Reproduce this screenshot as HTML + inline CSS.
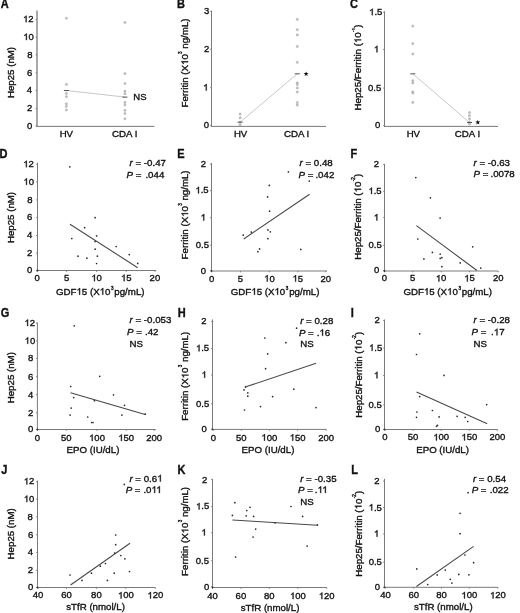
<!DOCTYPE html>
<html><head><meta charset="utf-8"><style>
html,body{margin:0;padding:0;background:#fff;}
svg{display:block;filter:blur(0.3px);}
text{font-family:"Liberation Sans",sans-serif;fill:#111;stroke:#111;stroke-width:0.35px;}
.o{fill:transparent;stroke:none;}
.g1{fill:#111;stroke:#111;stroke-width:0.35px;}
</style></head><body>
<svg width="520" height="613" viewBox="0 0 520 613">
<rect width="520" height="613" fill="#fff"/>
<text transform="translate(0.63,8.40) scale(0.92,1)" x="0" y="0" font-size="12" font-weight="bold">A</text>
<line x1="66.40" y1="90.50" x2="124.90" y2="97.10" stroke="#c8c8c8" stroke-width="1"/>
<circle cx="66.40" cy="18.25" r="1.1" fill="#c4c4c4" stroke="#a0a0a0" stroke-width="0.5"/>
<circle cx="66.40" cy="84.40" r="1.1" fill="#c4c4c4" stroke="#a0a0a0" stroke-width="0.5"/>
<circle cx="66.40" cy="93.40" r="1.1" fill="#c4c4c4" stroke="#a0a0a0" stroke-width="0.5"/>
<circle cx="66.40" cy="96.70" r="1.1" fill="#c4c4c4" stroke="#a0a0a0" stroke-width="0.5"/>
<circle cx="66.40" cy="103.80" r="1.1" fill="#c4c4c4" stroke="#a0a0a0" stroke-width="0.5"/>
<circle cx="66.40" cy="106.40" r="1.1" fill="#c4c4c4" stroke="#a0a0a0" stroke-width="0.5"/>
<circle cx="66.40" cy="110.00" r="1.1" fill="#c4c4c4" stroke="#a0a0a0" stroke-width="0.5"/>
<circle cx="124.90" cy="22.50" r="1.1" fill="#c4c4c4" stroke="#a0a0a0" stroke-width="0.5"/>
<circle cx="124.90" cy="73.60" r="1.1" fill="#c4c4c4" stroke="#a0a0a0" stroke-width="0.5"/>
<circle cx="124.90" cy="83.50" r="1.1" fill="#c4c4c4" stroke="#a0a0a0" stroke-width="0.5"/>
<circle cx="124.90" cy="91.25" r="1.1" fill="#c4c4c4" stroke="#a0a0a0" stroke-width="0.5"/>
<circle cx="124.90" cy="93.70" r="1.1" fill="#c4c4c4" stroke="#a0a0a0" stroke-width="0.5"/>
<circle cx="124.90" cy="102.40" r="1.1" fill="#c4c4c4" stroke="#a0a0a0" stroke-width="0.5"/>
<circle cx="124.90" cy="105.00" r="1.1" fill="#c4c4c4" stroke="#a0a0a0" stroke-width="0.5"/>
<circle cx="124.90" cy="110.30" r="1.1" fill="#c4c4c4" stroke="#a0a0a0" stroke-width="0.5"/>
<circle cx="124.90" cy="113.50" r="1.1" fill="#c4c4c4" stroke="#a0a0a0" stroke-width="0.5"/>
<circle cx="124.90" cy="118.80" r="1.1" fill="#c4c4c4" stroke="#a0a0a0" stroke-width="0.5"/>
<line x1="63.90" y1="90.50" x2="68.90" y2="90.50" stroke="#555" stroke-width="1"/>
<line x1="122.40" y1="97.10" x2="127.40" y2="97.10" stroke="#555" stroke-width="1"/>
<line x1="37.00" y1="10.50" x2="37.00" y2="126.90" stroke="#555" stroke-width="1"/>
<line x1="36.50" y1="126.40" x2="154.40" y2="126.40" stroke="#7a7a7a" stroke-width="1"/>
<line x1="35.70" y1="19.35" x2="37.00" y2="19.35" stroke="#7a7a7a" stroke-width="1"/>
<text x="28.30" y="22.20" text-anchor="middle" font-size="9.5" ><tspan class="o">1</tspan>2</text>
<line x1="35.70" y1="37.20" x2="37.00" y2="37.20" stroke="#7a7a7a" stroke-width="1"/>
<text x="28.55" y="40.05" text-anchor="middle" font-size="9.5" ><tspan class="o">1</tspan>0</text>
<line x1="35.70" y1="54.90" x2="37.00" y2="54.90" stroke="#7a7a7a" stroke-width="1"/>
<text x="29.85" y="57.75" text-anchor="middle" font-size="9.5" >8</text>
<line x1="35.70" y1="72.80" x2="37.00" y2="72.80" stroke="#7a7a7a" stroke-width="1"/>
<text x="29.70" y="75.65" text-anchor="middle" font-size="9.5" >6</text>
<line x1="35.70" y1="90.60" x2="37.00" y2="90.60" stroke="#7a7a7a" stroke-width="1"/>
<text x="29.50" y="93.45" text-anchor="middle" font-size="9.5" >4</text>
<line x1="35.70" y1="108.50" x2="37.00" y2="108.50" stroke="#7a7a7a" stroke-width="1"/>
<text x="29.60" y="111.35" text-anchor="middle" font-size="9.5" >2</text>
<line x1="35.70" y1="125.90" x2="37.00" y2="125.90" stroke="#7a7a7a" stroke-width="1"/>
<text x="29.70" y="128.75" text-anchor="middle" font-size="9.5" >0</text>
<text x="66.30" y="136.60" text-anchor="middle" font-size="9.6" >HV</text>
<text x="124.70" y="136.60" text-anchor="middle" font-size="9.7" >CDA I</text>
<text transform="translate(13.70,72.50) rotate(-90)" text-anchor="middle" font-size="9.7">Hep25 (nM)</text>
<text x="133.30" y="100.30" text-anchor="start" font-size="9.5" >NS</text>
<text transform="translate(176.96,8.40) scale(0.92,1)" x="0" y="0" font-size="12" font-weight="bold">B</text>
<line x1="240.10" y1="122.20" x2="297.30" y2="73.80" stroke="#c8c8c8" stroke-width="1"/>
<circle cx="240.10" cy="114.10" r="1.1" fill="#c4c4c4" stroke="#a0a0a0" stroke-width="0.5"/>
<circle cx="240.10" cy="117.80" r="1.1" fill="#c4c4c4" stroke="#a0a0a0" stroke-width="0.5"/>
<circle cx="240.10" cy="122.20" r="1.1" fill="#c4c4c4" stroke="#a0a0a0" stroke-width="0.5"/>
<circle cx="240.10" cy="124.80" r="1.1" fill="#c4c4c4" stroke="#a0a0a0" stroke-width="0.5"/>
<circle cx="297.30" cy="19.40" r="1.1" fill="#c4c4c4" stroke="#a0a0a0" stroke-width="0.5"/>
<circle cx="297.30" cy="29.70" r="1.1" fill="#c4c4c4" stroke="#a0a0a0" stroke-width="0.5"/>
<circle cx="297.30" cy="34.90" r="1.1" fill="#c4c4c4" stroke="#a0a0a0" stroke-width="0.5"/>
<circle cx="297.30" cy="46.50" r="1.1" fill="#c4c4c4" stroke="#a0a0a0" stroke-width="0.5"/>
<circle cx="297.30" cy="62.30" r="1.1" fill="#c4c4c4" stroke="#a0a0a0" stroke-width="0.5"/>
<circle cx="297.30" cy="82.90" r="1.1" fill="#c4c4c4" stroke="#a0a0a0" stroke-width="0.5"/>
<circle cx="297.30" cy="84.60" r="1.1" fill="#c4c4c4" stroke="#a0a0a0" stroke-width="0.5"/>
<circle cx="297.30" cy="88.00" r="1.1" fill="#c4c4c4" stroke="#a0a0a0" stroke-width="0.5"/>
<circle cx="297.30" cy="92.00" r="1.1" fill="#c4c4c4" stroke="#a0a0a0" stroke-width="0.5"/>
<circle cx="297.30" cy="102.60" r="1.1" fill="#c4c4c4" stroke="#a0a0a0" stroke-width="0.5"/>
<circle cx="297.30" cy="105.10" r="1.1" fill="#c4c4c4" stroke="#a0a0a0" stroke-width="0.5"/>
<line x1="237.60" y1="122.20" x2="242.60" y2="122.20" stroke="#555" stroke-width="1"/>
<line x1="294.80" y1="73.80" x2="299.80" y2="73.80" stroke="#555" stroke-width="1"/>
<line x1="211.50" y1="10.70" x2="211.50" y2="126.90" stroke="#7a7a7a" stroke-width="1"/>
<line x1="211.00" y1="126.40" x2="326.00" y2="126.40" stroke="#7a7a7a" stroke-width="1"/>
<line x1="210.20" y1="11.25" x2="211.50" y2="11.25" stroke="#7a7a7a" stroke-width="1"/>
<text x="206.65" y="14.10" text-anchor="middle" font-size="9.5" >3</text>
<line x1="210.20" y1="49.15" x2="211.50" y2="49.15" stroke="#7a7a7a" stroke-width="1"/>
<text x="206.65" y="52.00" text-anchor="middle" font-size="9.5" >2</text>
<line x1="210.20" y1="87.70" x2="211.50" y2="87.70" stroke="#7a7a7a" stroke-width="1"/>
<text x="205.75" y="90.55" text-anchor="middle" font-size="9.5" ><tspan class="o">1</tspan></text>
<line x1="210.20" y1="125.45" x2="211.50" y2="125.45" stroke="#7a7a7a" stroke-width="1"/>
<text x="206.45" y="128.30" text-anchor="middle" font-size="9.5" >0</text>
<text x="240.60" y="136.60" text-anchor="middle" font-size="9.6" >HV</text>
<text x="296.60" y="136.60" text-anchor="middle" font-size="9.7" >CDA I</text>
<text transform="translate(188.10,63.00) rotate(-90)" text-anchor="middle" font-size="9.7">Ferritin (X<tspan class="o">1</tspan>0<tspan font-size="4.6" dx="0.3" dy="-6">3</tspan><tspan dy="6"> ng/mL)</tspan></text>
<polygon points="306.10,71.40 306.74,73.12 308.57,73.20 307.14,74.34 307.63,76.10 306.10,75.09 304.57,76.10 305.06,74.34 303.63,73.20 305.46,73.12" fill="#111"/>
<text transform="translate(350.05,8.40) scale(0.92,1)" x="0" y="0" font-size="12" font-weight="bold">C</text>
<line x1="412.80" y1="73.80" x2="469.50" y2="122.50" stroke="#c8c8c8" stroke-width="1"/>
<circle cx="412.80" cy="26.10" r="1.1" fill="#c4c4c4" stroke="#a0a0a0" stroke-width="0.5"/>
<circle cx="412.80" cy="43.60" r="1.1" fill="#c4c4c4" stroke="#a0a0a0" stroke-width="0.5"/>
<circle cx="412.80" cy="54.00" r="1.1" fill="#c4c4c4" stroke="#a0a0a0" stroke-width="0.5"/>
<circle cx="412.80" cy="80.70" r="1.1" fill="#c4c4c4" stroke="#a0a0a0" stroke-width="0.5"/>
<circle cx="412.80" cy="83.00" r="1.1" fill="#c4c4c4" stroke="#a0a0a0" stroke-width="0.5"/>
<circle cx="412.80" cy="91.90" r="1.1" fill="#c4c4c4" stroke="#a0a0a0" stroke-width="0.5"/>
<circle cx="412.80" cy="93.10" r="1.1" fill="#c4c4c4" stroke="#a0a0a0" stroke-width="0.5"/>
<circle cx="412.80" cy="102.40" r="1.1" fill="#c4c4c4" stroke="#a0a0a0" stroke-width="0.5"/>
<circle cx="469.50" cy="112.60" r="1.1" fill="#c4c4c4" stroke="#a0a0a0" stroke-width="0.5"/>
<circle cx="469.50" cy="115.60" r="1.1" fill="#c4c4c4" stroke="#a0a0a0" stroke-width="0.5"/>
<circle cx="469.50" cy="118.80" r="1.1" fill="#c4c4c4" stroke="#a0a0a0" stroke-width="0.5"/>
<circle cx="469.50" cy="122.20" r="1.1" fill="#c4c4c4" stroke="#a0a0a0" stroke-width="0.5"/>
<circle cx="469.50" cy="123.90" r="1.1" fill="#c4c4c4" stroke="#a0a0a0" stroke-width="0.5"/>
<line x1="410.30" y1="73.80" x2="415.30" y2="73.80" stroke="#555" stroke-width="1"/>
<line x1="467.00" y1="122.50" x2="472.00" y2="122.50" stroke="#555" stroke-width="1"/>
<line x1="384.50" y1="11.30" x2="384.50" y2="126.90" stroke="#7a7a7a" stroke-width="1"/>
<line x1="384.00" y1="126.40" x2="498.10" y2="126.40" stroke="#7a7a7a" stroke-width="1"/>
<line x1="383.20" y1="12.35" x2="384.50" y2="12.35" stroke="#7a7a7a" stroke-width="1"/>
<text x="375.75" y="15.20" text-anchor="middle" font-size="9.5" ><tspan class="o">1</tspan>.5</text>
<line x1="383.20" y1="49.50" x2="384.50" y2="49.50" stroke="#7a7a7a" stroke-width="1"/>
<text x="376.50" y="52.35" text-anchor="middle" font-size="9.5" ><tspan class="o">1</tspan></text>
<line x1="383.20" y1="88.10" x2="384.50" y2="88.10" stroke="#7a7a7a" stroke-width="1"/>
<text x="374.70" y="90.95" text-anchor="middle" font-size="9.5" >0.5</text>
<line x1="383.20" y1="125.60" x2="384.50" y2="125.60" stroke="#7a7a7a" stroke-width="1"/>
<text x="377.60" y="128.45" text-anchor="middle" font-size="9.5" >0</text>
<text x="413.30" y="136.60" text-anchor="middle" font-size="9.6" >HV</text>
<text x="467.50" y="136.60" text-anchor="middle" font-size="9.7" >CDA I</text>
<text transform="translate(361.10,67.40) rotate(-90)" text-anchor="middle" font-size="9.7">Hep25/Ferritin (<tspan class="o">1</tspan>0<tspan font-size="4.6" dx="0.3" dy="-6">-<tspan class="o">1</tspan></tspan><tspan dx="0.3" dy="6">)</tspan></text>
<polygon points="477.80,119.70 478.44,121.42 480.27,121.50 478.84,122.64 479.33,124.40 477.80,123.39 476.27,124.40 476.76,122.64 475.33,121.50 477.16,121.42" fill="#111"/>
<text transform="translate(-0.44,158.40) scale(0.92,1)" x="0" y="0" font-size="12" font-weight="bold">D</text>
<line x1="37.50" y1="162.60" x2="37.50" y2="271.00" stroke="#7a7a7a" stroke-width="1"/>
<line x1="37.00" y1="270.50" x2="156.20" y2="270.50" stroke="#7a7a7a" stroke-width="1"/>
<line x1="36.20" y1="164.35" x2="37.50" y2="164.35" stroke="#7a7a7a" stroke-width="1"/>
<text x="28.50" y="167.20" text-anchor="middle" font-size="9.5" ><tspan class="o">1</tspan>2</text>
<line x1="36.20" y1="182.00" x2="37.50" y2="182.00" stroke="#7a7a7a" stroke-width="1"/>
<text x="28.65" y="184.85" text-anchor="middle" font-size="9.5" ><tspan class="o">1</tspan>0</text>
<line x1="36.20" y1="199.90" x2="37.50" y2="199.90" stroke="#7a7a7a" stroke-width="1"/>
<text x="29.80" y="202.75" text-anchor="middle" font-size="9.5" >8</text>
<line x1="36.20" y1="217.60" x2="37.50" y2="217.60" stroke="#7a7a7a" stroke-width="1"/>
<text x="29.70" y="220.45" text-anchor="middle" font-size="9.5" >6</text>
<line x1="36.20" y1="235.50" x2="37.50" y2="235.50" stroke="#7a7a7a" stroke-width="1"/>
<text x="29.60" y="238.35" text-anchor="middle" font-size="9.5" >4</text>
<line x1="36.20" y1="253.20" x2="37.50" y2="253.20" stroke="#7a7a7a" stroke-width="1"/>
<text x="29.60" y="256.05" text-anchor="middle" font-size="9.5" >2</text>
<line x1="36.20" y1="270.40" x2="37.50" y2="270.40" stroke="#7a7a7a" stroke-width="1"/>
<text x="29.60" y="273.25" text-anchor="middle" font-size="9.5" >0</text>
<line x1="37.10" y1="270.50" x2="37.10" y2="271.80" stroke="#7a7a7a" stroke-width="1"/>
<text x="37.10" y="281.15" text-anchor="middle" font-size="9.5" >0</text>
<line x1="66.65" y1="270.50" x2="66.65" y2="271.80" stroke="#7a7a7a" stroke-width="1"/>
<text x="66.65" y="281.15" text-anchor="middle" font-size="9.5" >5</text>
<line x1="96.60" y1="270.50" x2="96.60" y2="271.80" stroke="#7a7a7a" stroke-width="1"/>
<text x="96.60" y="281.15" text-anchor="middle" font-size="9.5" ><tspan class="o">1</tspan>0</text>
<line x1="126.30" y1="270.50" x2="126.30" y2="271.80" stroke="#7a7a7a" stroke-width="1"/>
<text x="126.30" y="281.15" text-anchor="middle" font-size="9.5" ><tspan class="o">1</tspan>5</text>
<line x1="154.90" y1="270.50" x2="154.90" y2="271.80" stroke="#7a7a7a" stroke-width="1"/>
<text x="154.90" y="281.15" text-anchor="middle" font-size="9.5" >20</text>
<circle cx="37.50" cy="270.50" r="0.9" fill="#333"/>
<text x="100.25" y="294.70" text-anchor="middle" font-size="9.7" >GDF<tspan class="o">1</tspan>5 (X<tspan class="o">1</tspan>0<tspan font-size="4.6" dx="0.6" dy="-5">3</tspan><tspan dx="0.8" dy="5">pg/mL)</tspan></text>
<text transform="translate(13.70,217.50) rotate(-90)" text-anchor="middle" font-size="9.7">Hep25 (nM)</text>
<text x="129.60" y="165.70" text-anchor="start" font-size="9.7" ><tspan font-style="italic">r</tspan> = -0.47</text>
<text x="126.50" y="177.60" text-anchor="start" font-size="9.7" ><tspan font-style="italic">P</tspan> =<tspan dx="1.40"> .044</tspan></text>
<line x1="70.00" y1="224.20" x2="137.70" y2="267.70" stroke="#474747" stroke-width="1.05"/>
<circle cx="69.80" cy="166.80" r="0.85" fill="#2a2a2a"/>
<circle cx="95.10" cy="217.70" r="0.85" fill="#2a2a2a"/>
<circle cx="84.60" cy="227.70" r="0.85" fill="#2a2a2a"/>
<circle cx="96.60" cy="235.80" r="0.85" fill="#2a2a2a"/>
<circle cx="71.80" cy="238.50" r="0.85" fill="#2a2a2a"/>
<circle cx="95.10" cy="241.50" r="0.85" fill="#2a2a2a"/>
<circle cx="116.20" cy="246.50" r="0.85" fill="#2a2a2a"/>
<circle cx="95.10" cy="249.20" r="0.85" fill="#2a2a2a"/>
<circle cx="129.20" cy="254.60" r="0.85" fill="#2a2a2a"/>
<circle cx="78.00" cy="256.20" r="0.85" fill="#2a2a2a"/>
<circle cx="86.90" cy="258.20" r="0.85" fill="#2a2a2a"/>
<circle cx="97.40" cy="256.20" r="0.85" fill="#2a2a2a"/>
<circle cx="96.60" cy="263.50" r="0.85" fill="#2a2a2a"/>
<circle cx="137.70" cy="263.40" r="0.85" fill="#2a2a2a"/>
<text transform="translate(177.36,158.40) scale(0.92,1)" x="0" y="0" font-size="12" font-weight="bold">E</text>
<line x1="211.50" y1="163.00" x2="211.50" y2="271.50" stroke="#7a7a7a" stroke-width="1"/>
<line x1="211.00" y1="271.00" x2="327.00" y2="271.00" stroke="#7a7a7a" stroke-width="1"/>
<line x1="210.20" y1="164.10" x2="211.50" y2="164.10" stroke="#7a7a7a" stroke-width="1"/>
<text x="203.40" y="166.95" text-anchor="middle" font-size="9.5" >2</text>
<line x1="210.20" y1="190.55" x2="211.50" y2="190.55" stroke="#7a7a7a" stroke-width="1"/>
<text x="202.00" y="193.40" text-anchor="middle" font-size="9.5" ><tspan class="o">1</tspan>.5</text>
<line x1="210.20" y1="217.70" x2="211.50" y2="217.70" stroke="#7a7a7a" stroke-width="1"/>
<text x="203.30" y="220.55" text-anchor="middle" font-size="9.5" ><tspan class="o">1</tspan></text>
<line x1="210.20" y1="245.25" x2="211.50" y2="245.25" stroke="#7a7a7a" stroke-width="1"/>
<text x="202.35" y="248.10" text-anchor="middle" font-size="9.5" >0.5</text>
<line x1="210.20" y1="270.75" x2="211.50" y2="270.75" stroke="#7a7a7a" stroke-width="1"/>
<text x="203.50" y="273.60" text-anchor="middle" font-size="9.5" >0</text>
<line x1="211.70" y1="271.00" x2="211.70" y2="272.30" stroke="#7a7a7a" stroke-width="1"/>
<text x="211.70" y="281.60" text-anchor="middle" font-size="9.5" >0</text>
<line x1="240.40" y1="271.00" x2="240.40" y2="272.30" stroke="#7a7a7a" stroke-width="1"/>
<text x="240.40" y="281.60" text-anchor="middle" font-size="9.5" >5</text>
<line x1="269.40" y1="271.00" x2="269.40" y2="272.30" stroke="#7a7a7a" stroke-width="1"/>
<text x="269.40" y="281.60" text-anchor="middle" font-size="9.5" ><tspan class="o">1</tspan>0</text>
<line x1="297.80" y1="271.00" x2="297.80" y2="272.30" stroke="#7a7a7a" stroke-width="1"/>
<text x="297.80" y="281.60" text-anchor="middle" font-size="9.5" ><tspan class="o">1</tspan>5</text>
<line x1="325.80" y1="271.00" x2="325.80" y2="272.30" stroke="#7a7a7a" stroke-width="1"/>
<text x="325.80" y="281.60" text-anchor="middle" font-size="9.5" >20</text>
<circle cx="211.50" cy="271.00" r="0.9" fill="#333"/>
<text x="275.10" y="294.70" text-anchor="middle" font-size="9.7" >GDF<tspan class="o">1</tspan>5 (X<tspan class="o">1</tspan>0<tspan font-size="4.6" dx="0.6" dy="-5">3</tspan><tspan dx="0.8" dy="5">pg/mL)</tspan></text>
<text transform="translate(188.10,214.90) rotate(-90)" text-anchor="middle" font-size="9.7">Ferritin (X<tspan class="o">1</tspan>0<tspan font-size="4.6" dx="0.3" dy="-6">3</tspan><tspan dy="6"> ng/mL)</tspan></text>
<text x="299.60" y="165.70" text-anchor="start" font-size="9.7" ><tspan font-style="italic">r</tspan> = 0.48</text>
<text x="298.60" y="177.60" text-anchor="start" font-size="9.7" ><tspan font-style="italic">P</tspan> =<tspan dx="-0.70"> .042</tspan></text>
<line x1="243.70" y1="239.00" x2="309.60" y2="194.30" stroke="#474747" stroke-width="1.05"/>
<circle cx="288.40" cy="171.80" r="0.85" fill="#2a2a2a"/>
<circle cx="309.30" cy="181.10" r="0.85" fill="#2a2a2a"/>
<circle cx="269.30" cy="185.40" r="0.85" fill="#2a2a2a"/>
<circle cx="267.60" cy="196.90" r="0.85" fill="#2a2a2a"/>
<circle cx="269.60" cy="211.20" r="0.85" fill="#2a2a2a"/>
<circle cx="243.20" cy="235.20" r="0.85" fill="#2a2a2a"/>
<circle cx="251.30" cy="232.10" r="0.85" fill="#2a2a2a"/>
<circle cx="267.90" cy="229.90" r="0.85" fill="#2a2a2a"/>
<circle cx="270.30" cy="231.80" r="0.85" fill="#2a2a2a"/>
<circle cx="267.90" cy="238.70" r="0.85" fill="#2a2a2a"/>
<circle cx="259.60" cy="248.90" r="0.85" fill="#2a2a2a"/>
<circle cx="257.90" cy="251.70" r="0.85" fill="#2a2a2a"/>
<circle cx="300.80" cy="249.40" r="0.85" fill="#2a2a2a"/>
<text transform="translate(350.56,158.40) scale(0.92,1)" x="0" y="0" font-size="12" font-weight="bold">F</text>
<line x1="384.50" y1="163.80" x2="384.50" y2="271.50" stroke="#7a7a7a" stroke-width="1"/>
<line x1="384.00" y1="271.00" x2="498.20" y2="271.00" stroke="#7a7a7a" stroke-width="1"/>
<line x1="383.20" y1="164.60" x2="384.50" y2="164.60" stroke="#7a7a7a" stroke-width="1"/>
<text x="376.50" y="167.45" text-anchor="middle" font-size="9.5" >2</text>
<line x1="383.20" y1="191.25" x2="384.50" y2="191.25" stroke="#7a7a7a" stroke-width="1"/>
<text x="375.00" y="194.10" text-anchor="middle" font-size="9.5" ><tspan class="o">1</tspan>.5</text>
<line x1="383.20" y1="217.70" x2="384.50" y2="217.70" stroke="#7a7a7a" stroke-width="1"/>
<text x="376.40" y="220.55" text-anchor="middle" font-size="9.5" ><tspan class="o">1</tspan></text>
<line x1="383.20" y1="245.25" x2="384.50" y2="245.25" stroke="#7a7a7a" stroke-width="1"/>
<text x="375.10" y="248.10" text-anchor="middle" font-size="9.5" >0.5</text>
<line x1="383.20" y1="270.45" x2="384.50" y2="270.45" stroke="#7a7a7a" stroke-width="1"/>
<text x="376.65" y="273.30" text-anchor="middle" font-size="9.5" >0</text>
<line x1="384.40" y1="271.00" x2="384.40" y2="272.30" stroke="#7a7a7a" stroke-width="1"/>
<text x="384.40" y="281.45" text-anchor="middle" font-size="9.5" >0</text>
<line x1="412.75" y1="271.00" x2="412.75" y2="272.30" stroke="#7a7a7a" stroke-width="1"/>
<text x="412.75" y="281.45" text-anchor="middle" font-size="9.5" >5</text>
<line x1="441.10" y1="271.00" x2="441.10" y2="272.30" stroke="#7a7a7a" stroke-width="1"/>
<text x="441.10" y="281.45" text-anchor="middle" font-size="9.5" ><tspan class="o">1</tspan>0</text>
<line x1="469.50" y1="271.00" x2="469.50" y2="272.30" stroke="#7a7a7a" stroke-width="1"/>
<text x="469.50" y="281.45" text-anchor="middle" font-size="9.5" ><tspan class="o">1</tspan>5</text>
<line x1="498.20" y1="271.00" x2="498.20" y2="272.30" stroke="#7a7a7a" stroke-width="1"/>
<text x="498.20" y="281.45" text-anchor="middle" font-size="9.5" >20</text>
<circle cx="384.50" cy="271.00" r="0.9" fill="#333"/>
<text x="447.70" y="294.70" text-anchor="middle" font-size="9.7" >GDF<tspan class="o">1</tspan>5 (X<tspan class="o">1</tspan>0<tspan font-size="4.6" dx="0.6" dy="-5">3</tspan><tspan dx="0.8" dy="5">pg/mL)</tspan></text>
<text transform="translate(361.10,216.70) rotate(-90)" text-anchor="middle" font-size="9.7">Hep25/Ferritin (<tspan class="o">1</tspan>0<tspan font-size="4.6" dx="0.3" dy="-6">-2</tspan><tspan dx="0.3" dy="6">)</tspan></text>
<text x="473.60" y="165.50" text-anchor="start" font-size="9.7" ><tspan font-style="italic">r</tspan> = -0.63</text>
<text x="473.60" y="177.10" text-anchor="start" font-size="9.7" ><tspan font-style="italic">P</tspan> =<tspan dx="-0.65"> .0078</tspan></text>
<line x1="416.40" y1="225.70" x2="477.00" y2="270.50" stroke="#474747" stroke-width="1.05"/>
<circle cx="415.80" cy="177.60" r="0.85" fill="#2a2a2a"/>
<circle cx="430.40" cy="197.80" r="0.85" fill="#2a2a2a"/>
<circle cx="440.10" cy="218.10" r="0.85" fill="#2a2a2a"/>
<circle cx="417.80" cy="239.00" r="0.85" fill="#2a2a2a"/>
<circle cx="472.70" cy="246.80" r="0.85" fill="#2a2a2a"/>
<circle cx="432.40" cy="252.40" r="0.85" fill="#2a2a2a"/>
<circle cx="440.20" cy="254.10" r="0.85" fill="#2a2a2a"/>
<circle cx="423.90" cy="258.90" r="0.85" fill="#2a2a2a"/>
<circle cx="440.20" cy="258.40" r="0.85" fill="#2a2a2a"/>
<circle cx="441.90" cy="257.70" r="0.85" fill="#2a2a2a"/>
<circle cx="460.20" cy="262.90" r="0.85" fill="#2a2a2a"/>
<circle cx="441.90" cy="266.70" r="0.85" fill="#2a2a2a"/>
<circle cx="480.80" cy="268.10" r="0.85" fill="#2a2a2a"/>
<text transform="translate(0.85,316.50) scale(0.92,1)" x="0" y="0" font-size="12" font-weight="bold">G</text>
<line x1="37.40" y1="322.50" x2="37.40" y2="430.00" stroke="#7a7a7a" stroke-width="1"/>
<line x1="36.90" y1="429.50" x2="155.80" y2="429.50" stroke="#7a7a7a" stroke-width="1"/>
<line x1="36.10" y1="323.10" x2="37.40" y2="323.10" stroke="#7a7a7a" stroke-width="1"/>
<text x="29.80" y="325.95" text-anchor="middle" font-size="9.5" ><tspan class="o">1</tspan>2</text>
<line x1="36.10" y1="341.00" x2="37.40" y2="341.00" stroke="#7a7a7a" stroke-width="1"/>
<text x="29.90" y="343.85" text-anchor="middle" font-size="9.5" ><tspan class="o">1</tspan>0</text>
<line x1="36.10" y1="358.40" x2="37.40" y2="358.40" stroke="#7a7a7a" stroke-width="1"/>
<text x="30.75" y="361.25" text-anchor="middle" font-size="9.5" >8</text>
<line x1="36.10" y1="376.80" x2="37.40" y2="376.80" stroke="#7a7a7a" stroke-width="1"/>
<text x="30.75" y="379.65" text-anchor="middle" font-size="9.5" >6</text>
<line x1="36.10" y1="394.80" x2="37.40" y2="394.80" stroke="#7a7a7a" stroke-width="1"/>
<text x="30.55" y="397.65" text-anchor="middle" font-size="9.5" >4</text>
<line x1="36.10" y1="412.80" x2="37.40" y2="412.80" stroke="#7a7a7a" stroke-width="1"/>
<text x="30.65" y="415.65" text-anchor="middle" font-size="9.5" >2</text>
<line x1="36.10" y1="429.50" x2="37.40" y2="429.50" stroke="#7a7a7a" stroke-width="1"/>
<text x="30.65" y="432.35" text-anchor="middle" font-size="9.5" >0</text>
<line x1="37.50" y1="429.50" x2="37.50" y2="430.80" stroke="#7a7a7a" stroke-width="1"/>
<text x="37.50" y="440.95" text-anchor="middle" font-size="9.5" >0</text>
<line x1="66.25" y1="429.50" x2="66.25" y2="430.80" stroke="#7a7a7a" stroke-width="1"/>
<text x="66.25" y="440.95" text-anchor="middle" font-size="9.5" >50</text>
<line x1="97.00" y1="429.50" x2="97.00" y2="430.80" stroke="#7a7a7a" stroke-width="1"/>
<text x="97.00" y="440.95" text-anchor="middle" font-size="9.5" ><tspan class="o">1</tspan>00</text>
<line x1="126.20" y1="429.50" x2="126.20" y2="430.80" stroke="#7a7a7a" stroke-width="1"/>
<text x="126.20" y="440.95" text-anchor="middle" font-size="9.5" ><tspan class="o">1</tspan>50</text>
<line x1="154.20" y1="429.50" x2="154.20" y2="430.80" stroke="#7a7a7a" stroke-width="1"/>
<text x="154.20" y="440.95" text-anchor="middle" font-size="9.5" >200</text>
<circle cx="37.40" cy="429.50" r="0.9" fill="#333"/>
<text x="93.00" y="452.50" text-anchor="middle" font-size="9.7" >EPO (IU/dL)</text>
<text transform="translate(13.90,377.70) rotate(-90)" text-anchor="middle" font-size="9.7">Hep25 (nM)</text>
<text x="129.60" y="322.80" text-anchor="start" font-size="9.7" ><tspan font-style="italic">r</tspan> = -0.053</text>
<text x="127.00" y="334.60" text-anchor="start" font-size="9.7" ><tspan font-style="italic">P</tspan> =<tspan dx="0.50"> .42</tspan></text>
<text x="129.60" y="346.90" text-anchor="start" font-size="9.7" >NS</text>
<line x1="70.50" y1="392.80" x2="145.20" y2="414.40" stroke="#474747" stroke-width="1.05"/>
<circle cx="74.20" cy="325.80" r="0.85" fill="#2a2a2a"/>
<circle cx="99.70" cy="376.30" r="0.85" fill="#2a2a2a"/>
<circle cx="70.70" cy="386.50" r="0.85" fill="#2a2a2a"/>
<circle cx="113.50" cy="394.80" r="0.85" fill="#2a2a2a"/>
<circle cx="73.70" cy="397.50" r="0.85" fill="#2a2a2a"/>
<circle cx="94.40" cy="400.70" r="0.85" fill="#2a2a2a"/>
<circle cx="124.50" cy="405.30" r="0.85" fill="#2a2a2a"/>
<circle cx="71.20" cy="408.10" r="0.85" fill="#2a2a2a"/>
<circle cx="70.10" cy="415.10" r="0.85" fill="#2a2a2a"/>
<circle cx="121.90" cy="415.10" r="0.85" fill="#2a2a2a"/>
<circle cx="87.70" cy="417.00" r="0.85" fill="#2a2a2a"/>
<circle cx="91.60" cy="422.50" r="0.85" fill="#2a2a2a"/>
<circle cx="93.00" cy="422.50" r="0.85" fill="#2a2a2a"/>
<circle cx="145.20" cy="414.20" r="0.85" fill="#2a2a2a"/>
<text transform="translate(177.76,316.50) scale(0.92,1)" x="0" y="0" font-size="12" font-weight="bold">H</text>
<line x1="212.50" y1="319.50" x2="212.50" y2="429.90" stroke="#7a7a7a" stroke-width="1"/>
<line x1="212.00" y1="429.40" x2="326.20" y2="429.40" stroke="#7a7a7a" stroke-width="1"/>
<line x1="211.20" y1="321.60" x2="212.50" y2="321.60" stroke="#7a7a7a" stroke-width="1"/>
<text x="203.90" y="324.45" text-anchor="middle" font-size="9.5" >2</text>
<line x1="211.20" y1="348.50" x2="212.50" y2="348.50" stroke="#7a7a7a" stroke-width="1"/>
<text x="202.55" y="351.35" text-anchor="middle" font-size="9.5" ><tspan class="o">1</tspan>.5</text>
<line x1="211.20" y1="375.00" x2="212.50" y2="375.00" stroke="#7a7a7a" stroke-width="1"/>
<text x="204.20" y="377.85" text-anchor="middle" font-size="9.5" ><tspan class="o">1</tspan></text>
<line x1="211.20" y1="403.70" x2="212.50" y2="403.70" stroke="#7a7a7a" stroke-width="1"/>
<text x="202.65" y="406.55" text-anchor="middle" font-size="9.5" >0.5</text>
<line x1="211.20" y1="429.00" x2="212.50" y2="429.00" stroke="#7a7a7a" stroke-width="1"/>
<text x="204.25" y="431.85" text-anchor="middle" font-size="9.5" >0</text>
<line x1="213.40" y1="429.40" x2="213.40" y2="430.70" stroke="#7a7a7a" stroke-width="1"/>
<text x="213.40" y="440.65" text-anchor="middle" font-size="9.5" >0</text>
<line x1="241.25" y1="429.40" x2="241.25" y2="430.70" stroke="#7a7a7a" stroke-width="1"/>
<text x="241.25" y="440.65" text-anchor="middle" font-size="9.5" >50</text>
<line x1="269.30" y1="429.40" x2="269.30" y2="430.70" stroke="#7a7a7a" stroke-width="1"/>
<text x="269.30" y="440.65" text-anchor="middle" font-size="9.5" ><tspan class="o">1</tspan>00</text>
<line x1="297.60" y1="429.40" x2="297.60" y2="430.70" stroke="#7a7a7a" stroke-width="1"/>
<text x="297.60" y="440.65" text-anchor="middle" font-size="9.5" ><tspan class="o">1</tspan>50</text>
<line x1="326.20" y1="429.40" x2="326.20" y2="430.70" stroke="#7a7a7a" stroke-width="1"/>
<text x="326.20" y="440.65" text-anchor="middle" font-size="9.5" >200</text>
<circle cx="212.50" cy="429.40" r="0.9" fill="#333"/>
<text x="268.00" y="452.50" text-anchor="middle" font-size="9.7" >EPO (IU/dL)</text>
<text transform="translate(188.40,376.30) rotate(-90)" text-anchor="middle" font-size="9.7">Ferritin (X<tspan class="o">1</tspan>0<tspan font-size="4.6" dx="0.3" dy="-6">3</tspan><tspan dy="6"> ng/mL)</tspan></text>
<text x="300.20" y="323.60" text-anchor="start" font-size="9.7" ><tspan font-style="italic">r</tspan> = 0.28</text>
<text x="298.90" y="335.80" text-anchor="start" font-size="9.7" ><tspan font-style="italic">P</tspan> =<tspan dx="0.30"> .<tspan class="o">1</tspan>6</tspan></text>
<text x="300.20" y="346.60" text-anchor="start" font-size="9.7" >NS</text>
<line x1="245.10" y1="387.10" x2="316.00" y2="363.20" stroke="#474747" stroke-width="1.05"/>
<circle cx="296.60" cy="328.20" r="0.85" fill="#2a2a2a"/>
<circle cx="264.80" cy="338.00" r="0.85" fill="#2a2a2a"/>
<circle cx="285.90" cy="342.70" r="0.85" fill="#2a2a2a"/>
<circle cx="267.70" cy="353.90" r="0.85" fill="#2a2a2a"/>
<circle cx="265.60" cy="368.70" r="0.85" fill="#2a2a2a"/>
<circle cx="245.50" cy="387.10" r="0.85" fill="#2a2a2a"/>
<circle cx="244.00" cy="389.90" r="0.85" fill="#2a2a2a"/>
<circle cx="247.80" cy="392.80" r="0.85" fill="#2a2a2a"/>
<circle cx="247.80" cy="396.20" r="0.85" fill="#2a2a2a"/>
<circle cx="293.80" cy="389.20" r="0.85" fill="#2a2a2a"/>
<circle cx="272.60" cy="396.60" r="0.85" fill="#2a2a2a"/>
<circle cx="260.50" cy="406.60" r="0.85" fill="#2a2a2a"/>
<circle cx="244.50" cy="410.00" r="0.85" fill="#2a2a2a"/>
<circle cx="316.00" cy="407.60" r="0.85" fill="#2a2a2a"/>
<text transform="translate(350.76,316.50) scale(0.92,1)" x="0" y="0" font-size="12" font-weight="bold">I</text>
<line x1="384.50" y1="319.50" x2="384.50" y2="430.00" stroke="#7a7a7a" stroke-width="1"/>
<line x1="384.00" y1="429.50" x2="497.40" y2="429.50" stroke="#7a7a7a" stroke-width="1"/>
<line x1="383.20" y1="320.60" x2="384.50" y2="320.60" stroke="#7a7a7a" stroke-width="1"/>
<text x="377.15" y="323.45" text-anchor="middle" font-size="9.5" >2</text>
<line x1="383.20" y1="348.00" x2="384.50" y2="348.00" stroke="#7a7a7a" stroke-width="1"/>
<text x="375.60" y="350.85" text-anchor="middle" font-size="9.5" ><tspan class="o">1</tspan>.5</text>
<line x1="383.20" y1="375.50" x2="384.50" y2="375.50" stroke="#7a7a7a" stroke-width="1"/>
<text x="376.50" y="378.35" text-anchor="middle" font-size="9.5" ><tspan class="o">1</tspan></text>
<line x1="383.20" y1="404.95" x2="384.50" y2="404.95" stroke="#7a7a7a" stroke-width="1"/>
<text x="375.20" y="407.80" text-anchor="middle" font-size="9.5" >0.5</text>
<line x1="383.20" y1="429.50" x2="384.50" y2="429.50" stroke="#7a7a7a" stroke-width="1"/>
<text x="377.75" y="432.35" text-anchor="middle" font-size="9.5" >0</text>
<line x1="385.00" y1="429.50" x2="385.00" y2="430.80" stroke="#7a7a7a" stroke-width="1"/>
<text x="385.00" y="440.40" text-anchor="middle" font-size="9.5" >0</text>
<line x1="413.10" y1="429.50" x2="413.10" y2="430.80" stroke="#7a7a7a" stroke-width="1"/>
<text x="413.10" y="440.40" text-anchor="middle" font-size="9.5" >50</text>
<line x1="441.20" y1="429.50" x2="441.20" y2="430.80" stroke="#7a7a7a" stroke-width="1"/>
<text x="441.20" y="440.40" text-anchor="middle" font-size="9.5" ><tspan class="o">1</tspan>00</text>
<line x1="469.30" y1="429.50" x2="469.30" y2="430.80" stroke="#7a7a7a" stroke-width="1"/>
<text x="469.30" y="440.40" text-anchor="middle" font-size="9.5" ><tspan class="o">1</tspan>50</text>
<line x1="497.40" y1="429.50" x2="497.40" y2="430.80" stroke="#7a7a7a" stroke-width="1"/>
<text x="497.40" y="440.40" text-anchor="middle" font-size="9.5" >200</text>
<circle cx="384.50" cy="429.50" r="0.9" fill="#333"/>
<text x="442.60" y="452.50" text-anchor="middle" font-size="9.7" >EPO (IU/dL)</text>
<text transform="translate(361.50,374.70) rotate(-90)" text-anchor="middle" font-size="9.7">Hep25/Ferritin (<tspan class="o">1</tspan>0<tspan font-size="4.6" dx="0.3" dy="-6">-2</tspan><tspan dx="0.3" dy="6">)</tspan></text>
<text x="473.60" y="323.10" text-anchor="start" font-size="9.7" ><tspan font-style="italic">r</tspan> = -0.28</text>
<text x="471.50" y="335.30" text-anchor="start" font-size="9.7" ><tspan font-style="italic">P</tspan> =<tspan dx="2.10"> .<tspan class="o">1</tspan>7</tspan></text>
<text x="473.60" y="346.90" text-anchor="start" font-size="9.7" >NS</text>
<line x1="416.50" y1="391.90" x2="487.20" y2="423.70" stroke="#474747" stroke-width="1.05"/>
<circle cx="419.70" cy="333.80" r="0.85" fill="#2a2a2a"/>
<circle cx="416.50" cy="354.50" r="0.85" fill="#2a2a2a"/>
<circle cx="444.00" cy="375.40" r="0.85" fill="#2a2a2a"/>
<circle cx="419.70" cy="396.60" r="0.85" fill="#2a2a2a"/>
<circle cx="486.70" cy="404.60" r="0.85" fill="#2a2a2a"/>
<circle cx="416.90" cy="412.00" r="0.85" fill="#2a2a2a"/>
<circle cx="432.40" cy="410.50" r="0.85" fill="#2a2a2a"/>
<circle cx="416.50" cy="417.30" r="0.85" fill="#2a2a2a"/>
<circle cx="439.10" cy="416.90" r="0.85" fill="#2a2a2a"/>
<circle cx="457.10" cy="416.30" r="0.85" fill="#2a2a2a"/>
<circle cx="465.20" cy="417.30" r="0.85" fill="#2a2a2a"/>
<circle cx="467.70" cy="421.50" r="0.85" fill="#2a2a2a"/>
<circle cx="436.50" cy="426.30" r="0.85" fill="#2a2a2a"/>
<circle cx="437.50" cy="425.30" r="0.85" fill="#2a2a2a"/>
<text transform="translate(1.13,473.50) scale(0.92,1)" x="0" y="0" font-size="12" font-weight="bold">J</text>
<line x1="37.50" y1="480.60" x2="37.50" y2="588.00" stroke="#7a7a7a" stroke-width="1"/>
<line x1="37.00" y1="587.50" x2="155.30" y2="587.50" stroke="#7a7a7a" stroke-width="1"/>
<line x1="36.20" y1="481.60" x2="37.50" y2="481.60" stroke="#7a7a7a" stroke-width="1"/>
<text x="29.05" y="484.45" text-anchor="middle" font-size="9.5" ><tspan class="o">1</tspan>2</text>
<line x1="36.20" y1="499.25" x2="37.50" y2="499.25" stroke="#7a7a7a" stroke-width="1"/>
<text x="29.05" y="502.10" text-anchor="middle" font-size="9.5" ><tspan class="o">1</tspan>0</text>
<line x1="36.20" y1="516.90" x2="37.50" y2="516.90" stroke="#7a7a7a" stroke-width="1"/>
<text x="30.25" y="519.75" text-anchor="middle" font-size="9.5" >8</text>
<line x1="36.20" y1="534.80" x2="37.50" y2="534.80" stroke="#7a7a7a" stroke-width="1"/>
<text x="30.55" y="537.65" text-anchor="middle" font-size="9.5" >6</text>
<line x1="36.20" y1="552.30" x2="37.50" y2="552.30" stroke="#7a7a7a" stroke-width="1"/>
<text x="30.30" y="555.15" text-anchor="middle" font-size="9.5" >4</text>
<line x1="36.20" y1="570.30" x2="37.50" y2="570.30" stroke="#7a7a7a" stroke-width="1"/>
<text x="30.45" y="573.15" text-anchor="middle" font-size="9.5" >2</text>
<line x1="36.20" y1="587.50" x2="37.50" y2="587.50" stroke="#7a7a7a" stroke-width="1"/>
<text x="30.65" y="590.35" text-anchor="middle" font-size="9.5" >0</text>
<line x1="38.10" y1="587.50" x2="38.10" y2="588.80" stroke="#7a7a7a" stroke-width="1"/>
<text x="38.10" y="598.45" text-anchor="middle" font-size="9.5" >40</text>
<line x1="66.50" y1="587.50" x2="66.50" y2="588.80" stroke="#7a7a7a" stroke-width="1"/>
<text x="66.50" y="598.45" text-anchor="middle" font-size="9.5" >60</text>
<line x1="96.40" y1="587.50" x2="96.40" y2="588.80" stroke="#7a7a7a" stroke-width="1"/>
<text x="96.40" y="598.45" text-anchor="middle" font-size="9.5" >80</text>
<line x1="125.90" y1="587.50" x2="125.90" y2="588.80" stroke="#7a7a7a" stroke-width="1"/>
<text x="125.90" y="598.45" text-anchor="middle" font-size="9.5" ><tspan class="o">1</tspan>00</text>
<line x1="155.30" y1="587.50" x2="155.30" y2="588.80" stroke="#7a7a7a" stroke-width="1"/>
<text x="155.30" y="598.45" text-anchor="middle" font-size="9.5" ><tspan class="o">1</tspan>20</text>
<circle cx="37.50" cy="587.50" r="0.9" fill="#333"/>
<text x="95.60" y="610.40" text-anchor="middle" font-size="9.7" >sTfR (nmol/L)</text>
<text transform="translate(13.90,533.80) rotate(-90)" text-anchor="middle" font-size="9.7">Hep25 (nM)</text>
<text x="129.40" y="481.50" text-anchor="start" font-size="9.7" ><tspan font-style="italic">r</tspan> = 0.6<tspan class="o">1</tspan></text>
<text x="125.70" y="492.90" text-anchor="start" font-size="9.7" ><tspan font-style="italic">P</tspan> =<tspan dx="0.20"> .0<tspan class="o">1</tspan><tspan class="o">1</tspan></tspan></text>
<line x1="70.50" y1="585.00" x2="130.00" y2="543.20" stroke="#474747" stroke-width="1.05"/>
<circle cx="124.30" cy="484.40" r="0.85" fill="#2a2a2a"/>
<circle cx="115.70" cy="535.00" r="0.85" fill="#2a2a2a"/>
<circle cx="115.70" cy="544.70" r="0.85" fill="#2a2a2a"/>
<circle cx="114.60" cy="553.00" r="0.85" fill="#2a2a2a"/>
<circle cx="120.80" cy="555.50" r="0.85" fill="#2a2a2a"/>
<circle cx="124.90" cy="558.80" r="0.85" fill="#2a2a2a"/>
<circle cx="105.40" cy="563.50" r="0.85" fill="#2a2a2a"/>
<circle cx="100.30" cy="566.20" r="0.85" fill="#2a2a2a"/>
<circle cx="70.00" cy="575.00" r="0.85" fill="#2a2a2a"/>
<circle cx="91.50" cy="573.20" r="0.85" fill="#2a2a2a"/>
<circle cx="114.20" cy="573.20" r="0.85" fill="#2a2a2a"/>
<circle cx="129.50" cy="571.50" r="0.85" fill="#2a2a2a"/>
<circle cx="82.00" cy="580.40" r="0.85" fill="#2a2a2a"/>
<circle cx="107.40" cy="580.40" r="0.85" fill="#2a2a2a"/>
<text transform="translate(177.56,473.50) scale(0.92,1)" x="0" y="0" font-size="12" font-weight="bold">K</text>
<line x1="212.50" y1="478.80" x2="212.50" y2="588.00" stroke="#7a7a7a" stroke-width="1"/>
<line x1="212.00" y1="587.50" x2="326.70" y2="587.50" stroke="#7a7a7a" stroke-width="1"/>
<line x1="211.20" y1="479.65" x2="212.50" y2="479.65" stroke="#7a7a7a" stroke-width="1"/>
<text x="204.60" y="482.50" text-anchor="middle" font-size="9.5" >2</text>
<line x1="211.20" y1="506.60" x2="212.50" y2="506.60" stroke="#7a7a7a" stroke-width="1"/>
<text x="202.60" y="509.45" text-anchor="middle" font-size="9.5" ><tspan class="o">1</tspan>.5</text>
<line x1="211.20" y1="532.75" x2="212.50" y2="532.75" stroke="#7a7a7a" stroke-width="1"/>
<text x="203.90" y="535.60" text-anchor="middle" font-size="9.5" ><tspan class="o">1</tspan></text>
<line x1="211.20" y1="560.80" x2="212.50" y2="560.80" stroke="#7a7a7a" stroke-width="1"/>
<text x="202.45" y="563.65" text-anchor="middle" font-size="9.5" >0.5</text>
<line x1="211.20" y1="586.65" x2="212.50" y2="586.65" stroke="#7a7a7a" stroke-width="1"/>
<text x="206.60" y="589.50" text-anchor="middle" font-size="9.5" >0</text>
<line x1="212.50" y1="587.50" x2="212.50" y2="588.80" stroke="#7a7a7a" stroke-width="1"/>
<text x="212.50" y="599.10" text-anchor="middle" font-size="9.5" >40</text>
<line x1="240.90" y1="587.50" x2="240.90" y2="588.80" stroke="#7a7a7a" stroke-width="1"/>
<text x="240.90" y="599.10" text-anchor="middle" font-size="9.5" >60</text>
<line x1="269.30" y1="587.50" x2="269.30" y2="588.80" stroke="#7a7a7a" stroke-width="1"/>
<text x="269.30" y="599.10" text-anchor="middle" font-size="9.5" >80</text>
<line x1="297.90" y1="587.50" x2="297.90" y2="588.80" stroke="#7a7a7a" stroke-width="1"/>
<text x="297.90" y="599.10" text-anchor="middle" font-size="9.5" ><tspan class="o">1</tspan>00</text>
<line x1="326.70" y1="587.50" x2="326.70" y2="588.80" stroke="#7a7a7a" stroke-width="1"/>
<text x="326.70" y="599.10" text-anchor="middle" font-size="9.5" ><tspan class="o">1</tspan>20</text>
<circle cx="212.50" cy="587.50" r="0.9" fill="#333"/>
<text x="270.10" y="610.90" text-anchor="middle" font-size="9.7" >sTfR (nmol/L)</text>
<text transform="translate(188.30,531.40) rotate(-90)" text-anchor="middle" font-size="9.7">Ferritin (X<tspan class="o">1</tspan>0<tspan font-size="4.6" dx="0.3" dy="-6">3</tspan><tspan dy="6"> ng/mL)</tspan></text>
<text x="300.20" y="481.50" text-anchor="start" font-size="9.7" ><tspan font-style="italic">r</tspan> = -0.35</text>
<text x="298.10" y="492.90" text-anchor="start" font-size="9.7" ><tspan font-style="italic">P</tspan> =<tspan dx="-0.80"> .<tspan class="o">1</tspan><tspan class="o">1</tspan></tspan></text>
<text x="300.20" y="504.60" text-anchor="start" font-size="9.7" >NS</text>
<line x1="232.40" y1="520.00" x2="317.40" y2="525.30" stroke="#474747" stroke-width="1.05"/>
<circle cx="234.90" cy="502.70" r="0.85" fill="#2a2a2a"/>
<circle cx="250.00" cy="507.30" r="0.85" fill="#2a2a2a"/>
<circle cx="246.80" cy="510.50" r="0.85" fill="#2a2a2a"/>
<circle cx="291.00" cy="506.50" r="0.85" fill="#2a2a2a"/>
<circle cx="232.40" cy="515.40" r="0.85" fill="#2a2a2a"/>
<circle cx="246.20" cy="515.80" r="0.85" fill="#2a2a2a"/>
<circle cx="253.60" cy="516.40" r="0.85" fill="#2a2a2a"/>
<circle cx="302.60" cy="516.40" r="0.85" fill="#2a2a2a"/>
<circle cx="275.10" cy="522.80" r="0.85" fill="#2a2a2a"/>
<circle cx="317.40" cy="524.90" r="0.85" fill="#2a2a2a"/>
<circle cx="255.70" cy="529.10" r="0.85" fill="#2a2a2a"/>
<circle cx="253.10" cy="537.00" r="0.85" fill="#2a2a2a"/>
<circle cx="307.10" cy="546.10" r="0.85" fill="#2a2a2a"/>
<circle cx="235.60" cy="557.10" r="0.85" fill="#2a2a2a"/>
<text transform="translate(351.16,473.50) scale(0.92,1)" x="0" y="0" font-size="12" font-weight="bold">L</text>
<line x1="384.50" y1="478.80" x2="384.50" y2="587.80" stroke="#7a7a7a" stroke-width="1"/>
<line x1="384.00" y1="587.30" x2="497.90" y2="587.30" stroke="#7a7a7a" stroke-width="1"/>
<line x1="383.20" y1="481.10" x2="384.50" y2="481.10" stroke="#7a7a7a" stroke-width="1"/>
<text x="376.90" y="483.95" text-anchor="middle" font-size="9.5" >2</text>
<line x1="383.20" y1="507.65" x2="384.50" y2="507.65" stroke="#7a7a7a" stroke-width="1"/>
<text x="375.25" y="510.50" text-anchor="middle" font-size="9.5" ><tspan class="o">1</tspan>.5</text>
<line x1="383.20" y1="533.90" x2="384.50" y2="533.90" stroke="#7a7a7a" stroke-width="1"/>
<text x="376.55" y="536.75" text-anchor="middle" font-size="9.5" ><tspan class="o">1</tspan></text>
<line x1="383.20" y1="562.25" x2="384.50" y2="562.25" stroke="#7a7a7a" stroke-width="1"/>
<text x="375.25" y="565.10" text-anchor="middle" font-size="9.5" >0.5</text>
<line x1="383.20" y1="587.25" x2="384.50" y2="587.25" stroke="#7a7a7a" stroke-width="1"/>
<text x="377.50" y="590.10" text-anchor="middle" font-size="9.5" >0</text>
<line x1="385.60" y1="587.30" x2="385.60" y2="588.60" stroke="#7a7a7a" stroke-width="1"/>
<text x="385.60" y="598.45" text-anchor="middle" font-size="9.5" >40</text>
<line x1="413.75" y1="587.30" x2="413.75" y2="588.60" stroke="#7a7a7a" stroke-width="1"/>
<text x="413.75" y="598.45" text-anchor="middle" font-size="9.5" >60</text>
<line x1="441.50" y1="587.30" x2="441.50" y2="588.60" stroke="#7a7a7a" stroke-width="1"/>
<text x="441.50" y="598.45" text-anchor="middle" font-size="9.5" >80</text>
<line x1="469.30" y1="587.30" x2="469.30" y2="588.60" stroke="#7a7a7a" stroke-width="1"/>
<text x="469.30" y="598.45" text-anchor="middle" font-size="9.5" ><tspan class="o">1</tspan>00</text>
<line x1="497.90" y1="587.30" x2="497.90" y2="588.60" stroke="#7a7a7a" stroke-width="1"/>
<text x="497.90" y="598.45" text-anchor="middle" font-size="9.5" ><tspan class="o">1</tspan>20</text>
<circle cx="384.50" cy="587.30" r="0.9" fill="#333"/>
<text x="443.30" y="610.20" text-anchor="middle" font-size="9.7" >sTfR (nmol/L)</text>
<text transform="translate(361.50,533.70) rotate(-90)" text-anchor="middle" font-size="9.7">Hep25/Ferritin (<tspan class="o">1</tspan>0<tspan font-size="4.6" dx="0.3" dy="-6">-2</tspan><tspan dx="0.3" dy="6">)</tspan></text>
<text x="472.90" y="481.80" text-anchor="start" font-size="9.7" ><tspan font-style="italic">r</tspan> = 0.54</text>
<text x="471.70" y="492.70" text-anchor="start" font-size="9.7" ><tspan font-style="italic">P</tspan> =<tspan dx="0.50"> .022</tspan></text>
<line x1="416.40" y1="586.50" x2="473.60" y2="546.40" stroke="#474747" stroke-width="1.05"/>
<circle cx="468.10" cy="492.70" r="0.85" fill="#2a2a2a"/>
<circle cx="460.10" cy="513.30" r="0.85" fill="#2a2a2a"/>
<circle cx="460.10" cy="533.70" r="0.85" fill="#2a2a2a"/>
<circle cx="464.90" cy="555.00" r="0.85" fill="#2a2a2a"/>
<circle cx="473.60" cy="562.70" r="0.85" fill="#2a2a2a"/>
<circle cx="416.80" cy="568.90" r="0.85" fill="#2a2a2a"/>
<circle cx="445.30" cy="570.10" r="0.85" fill="#2a2a2a"/>
<circle cx="437.20" cy="574.90" r="0.85" fill="#2a2a2a"/>
<circle cx="458.80" cy="574.40" r="0.85" fill="#2a2a2a"/>
<circle cx="468.90" cy="574.80" r="0.85" fill="#2a2a2a"/>
<circle cx="450.20" cy="579.30" r="0.85" fill="#2a2a2a"/>
<circle cx="451.90" cy="583.10" r="0.85" fill="#2a2a2a"/>
<circle cx="427.70" cy="584.50" r="0.85" fill="#2a2a2a"/>
<path class="g1" vector-effect="non-scaling-stroke" transform="matrix(1.0000,0.0000,0.0000,1.0000,0.000,0.000) translate(23.003,22.200) scale(0.004639,-0.004458)" d="M763 0L583 0L583 1147C540 1106 483 1065 412 1023C342 982 279 952 223 932L223 1106C323 1153 410 1209 485 1277C560 1344 613 1407 643 1466L763 1466Z"/>
<path class="g1" vector-effect="non-scaling-stroke" transform="matrix(1.0000,0.0000,0.0000,1.0000,0.000,0.000) translate(23.253,40.050) scale(0.004639,-0.004458)" d="M763 0L583 0L583 1147C540 1106 483 1065 412 1023C342 982 279 952 223 932L223 1106C323 1153 410 1209 485 1277C560 1344 613 1407 643 1466L763 1466Z"/>
<path class="g1" vector-effect="non-scaling-stroke" transform="matrix(1.0000,0.0000,0.0000,1.0000,0.000,0.000) translate(203.102,90.550) scale(0.004639,-0.004458)" d="M763 0L583 0L583 1147C540 1106 483 1065 412 1023C342 982 279 952 223 932L223 1106C323 1153 410 1209 485 1277C560 1344 613 1407 643 1466L763 1466Z"/>
<path class="g1" vector-effect="non-scaling-stroke" transform="matrix(0.0000,-1.0000,1.0000,0.0000,188.100,63.000) translate(-1.978,0.000) scale(0.004736,-0.004552)" d="M763 0L583 0L583 1147C540 1106 483 1065 412 1023C342 982 279 952 223 932L223 1106C323 1153 410 1209 485 1277C560 1344 613 1407 643 1466L763 1466Z"/>
<path class="g1" vector-effect="non-scaling-stroke" transform="matrix(1.0000,0.0000,0.0000,1.0000,0.000,0.000) translate(369.133,15.200) scale(0.004639,-0.004458)" d="M763 0L583 0L583 1147C540 1106 483 1065 412 1023C342 982 279 952 223 932L223 1106C323 1153 410 1209 485 1277C560 1344 613 1407 643 1466L763 1466Z"/>
<path class="g1" vector-effect="non-scaling-stroke" transform="matrix(1.0000,0.0000,0.0000,1.0000,0.000,0.000) translate(373.852,52.350) scale(0.004639,-0.004458)" d="M763 0L583 0L583 1147C540 1106 483 1065 412 1023C342 982 279 952 223 932L223 1106C323 1153 410 1209 485 1277C560 1344 613 1407 643 1466L763 1466Z"/>
<path class="g1" vector-effect="non-scaling-stroke" transform="matrix(0.0000,-1.0000,1.0000,0.0000,361.100,67.400) translate(24.302,0.000) scale(0.004736,-0.004552)" d="M763 0L583 0L583 1147C540 1106 483 1065 412 1023C342 982 279 952 223 932L223 1106C323 1153 410 1209 485 1277C560 1344 613 1407 643 1466L763 1466Z"/>
<path class="g1" vector-effect="non-scaling-stroke" transform="matrix(0.0000,-1.0000,1.0000,0.0000,361.100,67.400) translate(36.914,-6.000) scale(0.002246,-0.002158)" d="M763 0L583 0L583 1147C540 1106 483 1065 412 1023C342 982 279 952 223 932L223 1106C323 1153 410 1209 485 1277C560 1344 613 1407 643 1466L763 1466Z"/>
<path class="g1" vector-effect="non-scaling-stroke" transform="matrix(1.0000,0.0000,0.0000,1.0000,0.000,0.000) translate(23.203,167.200) scale(0.004639,-0.004458)" d="M763 0L583 0L583 1147C540 1106 483 1065 412 1023C342 982 279 952 223 932L223 1106C323 1153 410 1209 485 1277C560 1344 613 1407 643 1466L763 1466Z"/>
<path class="g1" vector-effect="non-scaling-stroke" transform="matrix(1.0000,0.0000,0.0000,1.0000,0.000,0.000) translate(23.353,184.850) scale(0.004639,-0.004458)" d="M763 0L583 0L583 1147C540 1106 483 1065 412 1023C342 982 279 952 223 932L223 1106C323 1153 410 1209 485 1277C560 1344 613 1407 643 1466L763 1466Z"/>
<path class="g1" vector-effect="non-scaling-stroke" transform="matrix(1.0000,0.0000,0.0000,1.0000,0.000,0.000) translate(91.303,281.150) scale(0.004639,-0.004458)" d="M763 0L583 0L583 1147C540 1106 483 1065 412 1023C342 982 279 952 223 932L223 1106C323 1153 410 1209 485 1277C560 1344 613 1407 643 1466L763 1466Z"/>
<path class="g1" vector-effect="non-scaling-stroke" transform="matrix(1.0000,0.0000,0.0000,1.0000,0.000,0.000) translate(121.003,281.150) scale(0.004639,-0.004458)" d="M763 0L583 0L583 1147C540 1106 483 1065 412 1023C342 982 279 952 223 932L223 1106C323 1153 410 1209 485 1277C560 1344 613 1407 643 1466L763 1466Z"/>
<path class="g1" vector-effect="non-scaling-stroke" transform="matrix(1.0000,0.0000,0.0000,1.0000,0.000,0.000) translate(76.441,294.700) scale(0.004736,-0.004552)" d="M763 0L583 0L583 1147C540 1106 483 1065 412 1023C342 982 279 952 223 932L223 1106C323 1153 410 1209 485 1277C560 1344 613 1407 643 1466L763 1466Z"/>
<path class="g1" vector-effect="non-scaling-stroke" transform="matrix(1.0000,0.0000,0.0000,1.0000,0.000,0.000) translate(99.613,294.700) scale(0.004736,-0.004552)" d="M763 0L583 0L583 1147C540 1106 483 1065 412 1023C342 982 279 952 223 932L223 1106C323 1153 410 1209 485 1277C560 1344 613 1407 643 1466L763 1466Z"/>
<path class="g1" vector-effect="non-scaling-stroke" transform="matrix(1.0000,0.0000,0.0000,1.0000,0.000,0.000) translate(195.383,193.400) scale(0.004639,-0.004458)" d="M763 0L583 0L583 1147C540 1106 483 1065 412 1023C342 982 279 952 223 932L223 1106C323 1153 410 1209 485 1277C560 1344 613 1407 643 1466L763 1466Z"/>
<path class="g1" vector-effect="non-scaling-stroke" transform="matrix(1.0000,0.0000,0.0000,1.0000,0.000,0.000) translate(200.652,220.550) scale(0.004639,-0.004458)" d="M763 0L583 0L583 1147C540 1106 483 1065 412 1023C342 982 279 952 223 932L223 1106C323 1153 410 1209 485 1277C560 1344 613 1407 643 1466L763 1466Z"/>
<path class="g1" vector-effect="non-scaling-stroke" transform="matrix(1.0000,0.0000,0.0000,1.0000,0.000,0.000) translate(264.103,281.600) scale(0.004639,-0.004458)" d="M763 0L583 0L583 1147C540 1106 483 1065 412 1023C342 982 279 952 223 932L223 1106C323 1153 410 1209 485 1277C560 1344 613 1407 643 1466L763 1466Z"/>
<path class="g1" vector-effect="non-scaling-stroke" transform="matrix(1.0000,0.0000,0.0000,1.0000,0.000,0.000) translate(292.503,281.600) scale(0.004639,-0.004458)" d="M763 0L583 0L583 1147C540 1106 483 1065 412 1023C342 982 279 952 223 932L223 1106C323 1153 410 1209 485 1277C560 1344 613 1407 643 1466L763 1466Z"/>
<path class="g1" vector-effect="non-scaling-stroke" transform="matrix(1.0000,0.0000,0.0000,1.0000,0.000,0.000) translate(251.291,294.700) scale(0.004736,-0.004552)" d="M763 0L583 0L583 1147C540 1106 483 1065 412 1023C342 982 279 952 223 932L223 1106C323 1153 410 1209 485 1277C560 1344 613 1407 643 1466L763 1466Z"/>
<path class="g1" vector-effect="non-scaling-stroke" transform="matrix(1.0000,0.0000,0.0000,1.0000,0.000,0.000) translate(274.463,294.700) scale(0.004736,-0.004552)" d="M763 0L583 0L583 1147C540 1106 483 1065 412 1023C342 982 279 952 223 932L223 1106C323 1153 410 1209 485 1277C560 1344 613 1407 643 1466L763 1466Z"/>
<path class="g1" vector-effect="non-scaling-stroke" transform="matrix(0.0000,-1.0000,1.0000,0.0000,188.100,214.900) translate(-1.978,0.000) scale(0.004736,-0.004552)" d="M763 0L583 0L583 1147C540 1106 483 1065 412 1023C342 982 279 952 223 932L223 1106C323 1153 410 1209 485 1277C560 1344 613 1407 643 1466L763 1466Z"/>
<path class="g1" vector-effect="non-scaling-stroke" transform="matrix(1.0000,0.0000,0.0000,1.0000,0.000,0.000) translate(368.383,194.100) scale(0.004639,-0.004458)" d="M763 0L583 0L583 1147C540 1106 483 1065 412 1023C342 982 279 952 223 932L223 1106C323 1153 410 1209 485 1277C560 1344 613 1407 643 1466L763 1466Z"/>
<path class="g1" vector-effect="non-scaling-stroke" transform="matrix(1.0000,0.0000,0.0000,1.0000,0.000,0.000) translate(373.752,220.550) scale(0.004639,-0.004458)" d="M763 0L583 0L583 1147C540 1106 483 1065 412 1023C342 982 279 952 223 932L223 1106C323 1153 410 1209 485 1277C560 1344 613 1407 643 1466L763 1466Z"/>
<path class="g1" vector-effect="non-scaling-stroke" transform="matrix(1.0000,0.0000,0.0000,1.0000,0.000,0.000) translate(435.803,281.450) scale(0.004639,-0.004458)" d="M763 0L583 0L583 1147C540 1106 483 1065 412 1023C342 982 279 952 223 932L223 1106C323 1153 410 1209 485 1277C560 1344 613 1407 643 1466L763 1466Z"/>
<path class="g1" vector-effect="non-scaling-stroke" transform="matrix(1.0000,0.0000,0.0000,1.0000,0.000,0.000) translate(464.203,281.450) scale(0.004639,-0.004458)" d="M763 0L583 0L583 1147C540 1106 483 1065 412 1023C342 982 279 952 223 932L223 1106C323 1153 410 1209 485 1277C560 1344 613 1407 643 1466L763 1466Z"/>
<path class="g1" vector-effect="non-scaling-stroke" transform="matrix(1.0000,0.0000,0.0000,1.0000,0.000,0.000) translate(423.891,294.700) scale(0.004736,-0.004552)" d="M763 0L583 0L583 1147C540 1106 483 1065 412 1023C342 982 279 952 223 932L223 1106C323 1153 410 1209 485 1277C560 1344 613 1407 643 1466L763 1466Z"/>
<path class="g1" vector-effect="non-scaling-stroke" transform="matrix(1.0000,0.0000,0.0000,1.0000,0.000,0.000) translate(447.063,294.700) scale(0.004736,-0.004552)" d="M763 0L583 0L583 1147C540 1106 483 1065 412 1023C342 982 279 952 223 932L223 1106C323 1153 410 1209 485 1277C560 1344 613 1407 643 1466L763 1466Z"/>
<path class="g1" vector-effect="non-scaling-stroke" transform="matrix(0.0000,-1.0000,1.0000,0.0000,361.100,216.700) translate(24.302,0.000) scale(0.004736,-0.004552)" d="M763 0L583 0L583 1147C540 1106 483 1065 412 1023C342 982 279 952 223 932L223 1106C323 1153 410 1209 485 1277C560 1344 613 1407 643 1466L763 1466Z"/>
<path class="g1" vector-effect="non-scaling-stroke" transform="matrix(1.0000,0.0000,0.0000,1.0000,0.000,0.000) translate(24.503,325.950) scale(0.004639,-0.004458)" d="M763 0L583 0L583 1147C540 1106 483 1065 412 1023C342 982 279 952 223 932L223 1106C323 1153 410 1209 485 1277C560 1344 613 1407 643 1466L763 1466Z"/>
<path class="g1" vector-effect="non-scaling-stroke" transform="matrix(1.0000,0.0000,0.0000,1.0000,0.000,0.000) translate(24.603,343.850) scale(0.004639,-0.004458)" d="M763 0L583 0L583 1147C540 1106 483 1065 412 1023C342 982 279 952 223 932L223 1106C323 1153 410 1209 485 1277C560 1344 613 1407 643 1466L763 1466Z"/>
<path class="g1" vector-effect="non-scaling-stroke" transform="matrix(1.0000,0.0000,0.0000,1.0000,0.000,0.000) translate(89.062,440.950) scale(0.004639,-0.004458)" d="M763 0L583 0L583 1147C540 1106 483 1065 412 1023C342 982 279 952 223 932L223 1106C323 1153 410 1209 485 1277C560 1344 613 1407 643 1466L763 1466Z"/>
<path class="g1" vector-effect="non-scaling-stroke" transform="matrix(1.0000,0.0000,0.0000,1.0000,0.000,0.000) translate(118.262,440.950) scale(0.004639,-0.004458)" d="M763 0L583 0L583 1147C540 1106 483 1065 412 1023C342 982 279 952 223 932L223 1106C323 1153 410 1209 485 1277C560 1344 613 1407 643 1466L763 1466Z"/>
<path class="g1" vector-effect="non-scaling-stroke" transform="matrix(1.0000,0.0000,0.0000,1.0000,0.000,0.000) translate(195.933,351.350) scale(0.004639,-0.004458)" d="M763 0L583 0L583 1147C540 1106 483 1065 412 1023C342 982 279 952 223 932L223 1106C323 1153 410 1209 485 1277C560 1344 613 1407 643 1466L763 1466Z"/>
<path class="g1" vector-effect="non-scaling-stroke" transform="matrix(1.0000,0.0000,0.0000,1.0000,0.000,0.000) translate(201.552,377.850) scale(0.004639,-0.004458)" d="M763 0L583 0L583 1147C540 1106 483 1065 412 1023C342 982 279 952 223 932L223 1106C323 1153 410 1209 485 1277C560 1344 613 1407 643 1466L763 1466Z"/>
<path class="g1" vector-effect="non-scaling-stroke" transform="matrix(1.0000,0.0000,0.0000,1.0000,0.000,0.000) translate(261.362,440.650) scale(0.004639,-0.004458)" d="M763 0L583 0L583 1147C540 1106 483 1065 412 1023C342 982 279 952 223 932L223 1106C323 1153 410 1209 485 1277C560 1344 613 1407 643 1466L763 1466Z"/>
<path class="g1" vector-effect="non-scaling-stroke" transform="matrix(1.0000,0.0000,0.0000,1.0000,0.000,0.000) translate(289.663,440.650) scale(0.004639,-0.004458)" d="M763 0L583 0L583 1147C540 1106 483 1065 412 1023C342 982 279 952 223 932L223 1106C323 1153 410 1209 485 1277C560 1344 613 1407 643 1466L763 1466Z"/>
<path class="g1" vector-effect="non-scaling-stroke" transform="matrix(0.0000,-1.0000,1.0000,0.0000,188.400,376.300) translate(-1.978,0.000) scale(0.004736,-0.004552)" d="M763 0L583 0L583 1147C540 1106 483 1065 412 1023C342 982 279 952 223 932L223 1106C323 1153 410 1209 485 1277C560 1344 613 1407 643 1466L763 1466Z"/>
<path class="g1" vector-effect="non-scaling-stroke" transform="matrix(1.0000,0.0000,0.0000,1.0000,0.000,0.000) translate(319.419,335.800) scale(0.004736,-0.004552)" d="M763 0L583 0L583 1147C540 1106 483 1065 412 1023C342 982 279 952 223 932L223 1106C323 1153 410 1209 485 1277C560 1344 613 1407 643 1466L763 1466Z"/>
<path class="g1" vector-effect="non-scaling-stroke" transform="matrix(1.0000,0.0000,0.0000,1.0000,0.000,0.000) translate(368.983,350.850) scale(0.004639,-0.004458)" d="M763 0L583 0L583 1147C540 1106 483 1065 412 1023C342 982 279 952 223 932L223 1106C323 1153 410 1209 485 1277C560 1344 613 1407 643 1466L763 1466Z"/>
<path class="g1" vector-effect="non-scaling-stroke" transform="matrix(1.0000,0.0000,0.0000,1.0000,0.000,0.000) translate(373.852,378.350) scale(0.004639,-0.004458)" d="M763 0L583 0L583 1147C540 1106 483 1065 412 1023C342 982 279 952 223 932L223 1106C323 1153 410 1209 485 1277C560 1344 613 1407 643 1466L763 1466Z"/>
<path class="g1" vector-effect="non-scaling-stroke" transform="matrix(1.0000,0.0000,0.0000,1.0000,0.000,0.000) translate(433.263,440.400) scale(0.004639,-0.004458)" d="M763 0L583 0L583 1147C540 1106 483 1065 412 1023C342 982 279 952 223 932L223 1106C323 1153 410 1209 485 1277C560 1344 613 1407 643 1466L763 1466Z"/>
<path class="g1" vector-effect="non-scaling-stroke" transform="matrix(1.0000,0.0000,0.0000,1.0000,0.000,0.000) translate(461.362,440.400) scale(0.004639,-0.004458)" d="M763 0L583 0L583 1147C540 1106 483 1065 412 1023C342 982 279 952 223 932L223 1106C323 1153 410 1209 485 1277C560 1344 613 1407 643 1466L763 1466Z"/>
<path class="g1" vector-effect="non-scaling-stroke" transform="matrix(0.0000,-1.0000,1.0000,0.0000,361.500,374.700) translate(24.302,0.000) scale(0.004736,-0.004552)" d="M763 0L583 0L583 1147C540 1106 483 1065 412 1023C342 982 279 952 223 932L223 1106C323 1153 410 1209 485 1277C560 1344 613 1407 643 1466L763 1466Z"/>
<path class="g1" vector-effect="non-scaling-stroke" transform="matrix(1.0000,0.0000,0.0000,1.0000,0.000,0.000) translate(493.819,335.300) scale(0.004736,-0.004552)" d="M763 0L583 0L583 1147C540 1106 483 1065 412 1023C342 982 279 952 223 932L223 1106C323 1153 410 1209 485 1277C560 1344 613 1407 643 1466L763 1466Z"/>
<path class="g1" vector-effect="non-scaling-stroke" transform="matrix(1.0000,0.0000,0.0000,1.0000,0.000,0.000) translate(23.753,484.450) scale(0.004639,-0.004458)" d="M763 0L583 0L583 1147C540 1106 483 1065 412 1023C342 982 279 952 223 932L223 1106C323 1153 410 1209 485 1277C560 1344 613 1407 643 1466L763 1466Z"/>
<path class="g1" vector-effect="non-scaling-stroke" transform="matrix(1.0000,0.0000,0.0000,1.0000,0.000,0.000) translate(23.753,502.100) scale(0.004639,-0.004458)" d="M763 0L583 0L583 1147C540 1106 483 1065 412 1023C342 982 279 952 223 932L223 1106C323 1153 410 1209 485 1277C560 1344 613 1407 643 1466L763 1466Z"/>
<path class="g1" vector-effect="non-scaling-stroke" transform="matrix(1.0000,0.0000,0.0000,1.0000,0.000,0.000) translate(117.963,598.450) scale(0.004639,-0.004458)" d="M763 0L583 0L583 1147C540 1106 483 1065 412 1023C342 982 279 952 223 932L223 1106C323 1153 410 1209 485 1277C560 1344 613 1407 643 1466L763 1466Z"/>
<path class="g1" vector-effect="non-scaling-stroke" transform="matrix(1.0000,0.0000,0.0000,1.0000,0.000,0.000) translate(147.363,598.450) scale(0.004639,-0.004458)" d="M763 0L583 0L583 1147C540 1106 483 1065 412 1023C342 982 279 952 223 932L223 1106C323 1153 410 1209 485 1277C560 1344 613 1407 643 1466L763 1466Z"/>
<path class="g1" vector-effect="non-scaling-stroke" transform="matrix(1.0000,0.0000,0.0000,1.0000,0.000,0.000) translate(157.150,481.500) scale(0.004736,-0.004552)" d="M763 0L583 0L583 1147C540 1106 483 1065 412 1023C342 982 279 952 223 932L223 1106C323 1153 410 1209 485 1277C560 1344 613 1407 643 1466L763 1466Z"/>
<path class="g1" vector-effect="non-scaling-stroke" transform="matrix(1.0000,0.0000,0.0000,1.0000,0.000,0.000) translate(151.509,492.900) scale(0.004736,-0.004552)" d="M763 0L583 0L583 1147C540 1106 483 1065 412 1023C342 982 279 952 223 932L223 1106C323 1153 410 1209 485 1277C560 1344 613 1407 643 1466L763 1466Z"/>
<path class="g1" vector-effect="non-scaling-stroke" transform="matrix(1.0000,0.0000,0.0000,1.0000,0.000,0.000) translate(156.181,492.900) scale(0.004736,-0.004552)" d="M763 0L583 0L583 1147C540 1106 483 1065 412 1023C342 982 279 952 223 932L223 1106C323 1153 410 1209 485 1277C560 1344 613 1407 643 1466L763 1466Z"/>
<path class="g1" vector-effect="non-scaling-stroke" transform="matrix(1.0000,0.0000,0.0000,1.0000,0.000,0.000) translate(195.983,509.450) scale(0.004639,-0.004458)" d="M763 0L583 0L583 1147C540 1106 483 1065 412 1023C342 982 279 952 223 932L223 1106C323 1153 410 1209 485 1277C560 1344 613 1407 643 1466L763 1466Z"/>
<path class="g1" vector-effect="non-scaling-stroke" transform="matrix(1.0000,0.0000,0.0000,1.0000,0.000,0.000) translate(201.252,535.600) scale(0.004639,-0.004458)" d="M763 0L583 0L583 1147C540 1106 483 1065 412 1023C342 982 279 952 223 932L223 1106C323 1153 410 1209 485 1277C560 1344 613 1407 643 1466L763 1466Z"/>
<path class="g1" vector-effect="non-scaling-stroke" transform="matrix(1.0000,0.0000,0.0000,1.0000,0.000,0.000) translate(289.962,599.100) scale(0.004639,-0.004458)" d="M763 0L583 0L583 1147C540 1106 483 1065 412 1023C342 982 279 952 223 932L223 1106C323 1153 410 1209 485 1277C560 1344 613 1407 643 1466L763 1466Z"/>
<path class="g1" vector-effect="non-scaling-stroke" transform="matrix(1.0000,0.0000,0.0000,1.0000,0.000,0.000) translate(318.763,599.100) scale(0.004639,-0.004458)" d="M763 0L583 0L583 1147C540 1106 483 1065 412 1023C342 982 279 952 223 932L223 1106C323 1153 410 1209 485 1277C560 1344 613 1407 643 1466L763 1466Z"/>
<path class="g1" vector-effect="non-scaling-stroke" transform="matrix(0.0000,-1.0000,1.0000,0.0000,188.300,531.400) translate(-1.978,0.000) scale(0.004736,-0.004552)" d="M763 0L583 0L583 1147C540 1106 483 1065 412 1023C342 982 279 952 223 932L223 1106C323 1153 410 1209 485 1277C560 1344 613 1407 643 1466L763 1466Z"/>
<path class="g1" vector-effect="non-scaling-stroke" transform="matrix(1.0000,0.0000,0.0000,1.0000,0.000,0.000) translate(317.519,492.900) scale(0.004736,-0.004552)" d="M763 0L583 0L583 1147C540 1106 483 1065 412 1023C342 982 279 952 223 932L223 1106C323 1153 410 1209 485 1277C560 1344 613 1407 643 1466L763 1466Z"/>
<path class="g1" vector-effect="non-scaling-stroke" transform="matrix(1.0000,0.0000,0.0000,1.0000,0.000,0.000) translate(322.191,492.900) scale(0.004736,-0.004552)" d="M763 0L583 0L583 1147C540 1106 483 1065 412 1023C342 982 279 952 223 932L223 1106C323 1153 410 1209 485 1277C560 1344 613 1407 643 1466L763 1466Z"/>
<path class="g1" vector-effect="non-scaling-stroke" transform="matrix(1.0000,0.0000,0.0000,1.0000,0.000,0.000) translate(368.633,510.500) scale(0.004639,-0.004458)" d="M763 0L583 0L583 1147C540 1106 483 1065 412 1023C342 982 279 952 223 932L223 1106C323 1153 410 1209 485 1277C560 1344 613 1407 643 1466L763 1466Z"/>
<path class="g1" vector-effect="non-scaling-stroke" transform="matrix(1.0000,0.0000,0.0000,1.0000,0.000,0.000) translate(373.902,536.750) scale(0.004639,-0.004458)" d="M763 0L583 0L583 1147C540 1106 483 1065 412 1023C342 982 279 952 223 932L223 1106C323 1153 410 1209 485 1277C560 1344 613 1407 643 1466L763 1466Z"/>
<path class="g1" vector-effect="non-scaling-stroke" transform="matrix(1.0000,0.0000,0.0000,1.0000,0.000,0.000) translate(461.362,598.450) scale(0.004639,-0.004458)" d="M763 0L583 0L583 1147C540 1106 483 1065 412 1023C342 982 279 952 223 932L223 1106C323 1153 410 1209 485 1277C560 1344 613 1407 643 1466L763 1466Z"/>
<path class="g1" vector-effect="non-scaling-stroke" transform="matrix(1.0000,0.0000,0.0000,1.0000,0.000,0.000) translate(489.962,598.450) scale(0.004639,-0.004458)" d="M763 0L583 0L583 1147C540 1106 483 1065 412 1023C342 982 279 952 223 932L223 1106C323 1153 410 1209 485 1277C560 1344 613 1407 643 1466L763 1466Z"/>
<path class="g1" vector-effect="non-scaling-stroke" transform="matrix(0.0000,-1.0000,1.0000,0.0000,361.500,533.700) translate(24.302,0.000) scale(0.004736,-0.004552)" d="M763 0L583 0L583 1147C540 1106 483 1065 412 1023C342 982 279 952 223 932L223 1106C323 1153 410 1209 485 1277C560 1344 613 1407 643 1466L763 1466Z"/>
</svg>
</body></html>
